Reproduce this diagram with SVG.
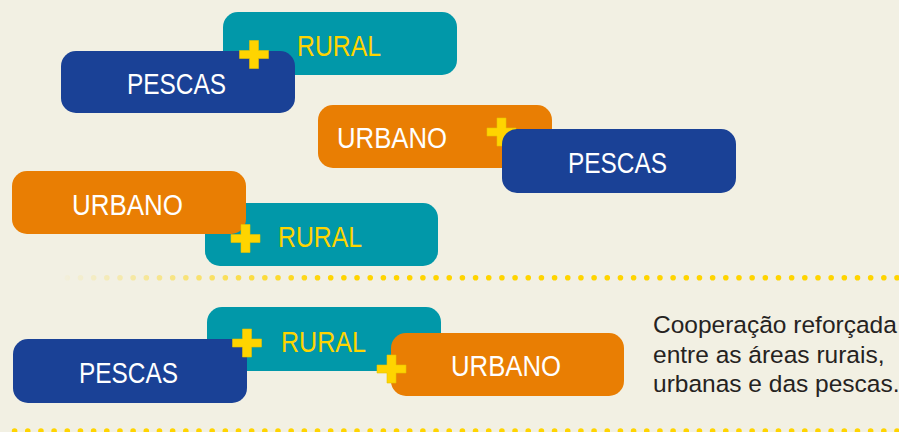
<svg xmlns="http://www.w3.org/2000/svg" xmlns:xlink="http://www.w3.org/1999/xlink" width="899" height="432" viewBox="0 0 899 432">
  <style>
    .box { stroke: none; }
    .teal { fill: #0198A9; }
    .blue { fill: #1A4196; }
    .orange { fill: #E97E03; }
    .plus { fill: #FFD400; stroke: #E6C200; stroke-width: 0.6; }
    .lbl { font-family: "Liberation Sans", Arial, sans-serif; font-size: 29px; }
    .w { fill: #FFFFFF; }
    .y { fill: #FFD400; }
    .para { font-family: "Liberation Sans", Arial, sans-serif; font-size: 24.5px; fill: #26231F; }
    .dots { fill: none; stroke-width: 5.6; stroke-linecap: round; stroke-dasharray: 0 13.17; }
  </style>
  <defs>
    <path id="plus" d="M -4.5 -14 H 4.5 V -4 H 14.5 V 4 H 4.5 V 14 H -4.5 V 4 H -14.5 V -4 H -4.5 Z"/>
    <linearGradient id="fade" gradientUnits="userSpaceOnUse" x1="55" y1="0" x2="335" y2="0">
      <stop offset="0" stop-color="#FFD400" stop-opacity="0"/>
      <stop offset="1" stop-color="#FFD400" stop-opacity="1"/>
    </linearGradient>
  </defs>

  <!-- background -->
  <rect width="899" height="432" fill="#F2F0E3"/>

  <!-- pair 1: rural + pescas -->
  <g id="rural-1">
    <rect class="box teal" x="223" y="12" width="234" height="63" rx="15"/>
    <text class="lbl y" x="297" y="56" textLength="84" lengthAdjust="spacingAndGlyphs">RURAL</text>
  </g>
  <g id="pescas-1">
    <rect class="box blue" x="61" y="51" width="234" height="62" rx="15"/>
    <text class="lbl w" x="127" y="94" textLength="99" lengthAdjust="spacingAndGlyphs">PESCAS</text>
  </g>
  <g id="join-1"><use xlink:href="#plus" class="plus" x="254" y="54.5"/></g>

  <!-- pair 2: urbano + pescas -->
  <g id="urbano-1">
    <rect class="box orange" x="318" y="105" width="234" height="63" rx="15"/>
    <text class="lbl w" x="337" y="148" textLength="110" lengthAdjust="spacingAndGlyphs">URBANO</text>
  </g>
  <g id="join-2"><use xlink:href="#plus" class="plus" x="501.5" y="132"/></g>
  <g id="pescas-2">
    <rect class="box blue" x="502" y="129" width="234" height="64" rx="15"/>
    <text class="lbl w" x="568" y="173" textLength="99" lengthAdjust="spacingAndGlyphs">PESCAS</text>
  </g>

  <!-- pair 3: urbano + rural -->
  <g id="rural-2">
    <rect class="box teal" x="205" y="203" width="233" height="63" rx="15"/>
    <text class="lbl y" x="278" y="247" textLength="84" lengthAdjust="spacingAndGlyphs">RURAL</text>
  </g>
  <g id="urbano-2">
    <rect class="box orange" x="12" y="171" width="234" height="63" rx="15"/>
    <text class="lbl w" x="72" y="215" textLength="111" lengthAdjust="spacingAndGlyphs">URBANO</text>
  </g>
  <g id="join-3"><use xlink:href="#plus" class="plus" x="245.5" y="238.5"/></g>

  <!-- separators -->
  <g id="connectors">
    <line class="dots" x1="67.3" y1="277.7" x2="905" y2="277.7" stroke="url(#fade)"/>
    <line class="dots" x1="14.6" y1="431" x2="905" y2="431" stroke="#FFD400"/>
  </g>

  <!-- triple: pescas + rural + urbano -->
  <g id="rural-3">
    <rect class="box teal" x="207" y="307" width="234" height="64" rx="15"/>
    <text class="lbl y" x="281" y="352" textLength="85" lengthAdjust="spacingAndGlyphs">RURAL</text>
  </g>
  <g id="pescas-3">
    <rect class="box blue" x="13" y="339" width="234" height="64" rx="15"/>
    <text class="lbl w" x="79" y="383" textLength="99" lengthAdjust="spacingAndGlyphs">PESCAS</text>
  </g>
  <g id="urbano-3">
    <rect class="box orange" x="391" y="333" width="233" height="63" rx="15"/>
    <text class="lbl w" x="451" y="376" textLength="110" lengthAdjust="spacingAndGlyphs">URBANO</text>
  </g>
  <g id="join-4"><use xlink:href="#plus" class="plus" x="247" y="343"/></g>
  <g id="join-5"><use xlink:href="#plus" class="plus" x="391.5" y="369"/></g>

  <!-- caption -->
  <g id="caption">
    <text class="para" x="653" y="333">Cooperação reforçada</text>
    <text class="para" x="653" y="363">entre as áreas rurais,</text>
    <text class="para" x="653" y="392">urbanas e das pescas.</text>
  </g>
</svg>
